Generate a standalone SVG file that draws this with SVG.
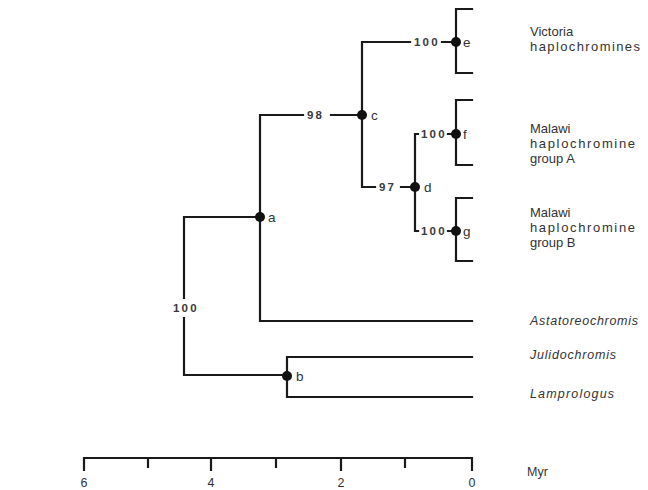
<svg xmlns="http://www.w3.org/2000/svg" width="648" height="490" viewBox="0 0 648 490">
<style>
.ln{stroke:#1a1a1a;stroke-width:2.2;fill:none;stroke-linecap:square}
.dot{fill:#111}
.lab{font-family:"Liberation Sans",Arial,sans-serif;font-size:13.5px;fill:#333}
.bs{font-family:"Liberation Sans",Arial,sans-serif;font-size:11.5px;font-weight:bold;fill:#3a3a3a;letter-spacing:2.2px}
.tx{font-family:"Liberation Sans",Arial,sans-serif;font-size:13px;fill:#333}
.it{font-family:"Liberation Sans",Arial,sans-serif;font-size:12.5px;font-style:italic;fill:#333}
.ax{font-family:"Liberation Sans",Arial,sans-serif;font-size:12.5px;fill:#333}
</style>
<rect width="648" height="490" fill="#fff"/>
<g id="connectors">
<path class="ln" d="M184 217V298M184 318V375H287M184 217H260"/>
<path class="ln" d="M260 115V321H472M260 115H303M331 115H362"/>
<path class="ln" d="M362 42V187M362 42H410M442 42H456M362 187H375M401 187H415"/>
<path class="ln" d="M415 134V231M415 134H418M415 231H418"/>
<path class="ln" d="M448 134H456M448 231H456"/>
<path class="ln" d="M472 9H456V73H472M472 100H456V165H472M472 198H456V261H472"/>
<path class="ln" d="M287 357V397M287 357H472M287 397H472"/>
</g>
<g id="support">
<text class="bs" x="173" y="312">100</text>
<text class="bs" x="307" y="119">98</text>
<text class="bs" x="414" y="46">100</text>
<text class="bs" x="379" y="191">97</text>
<text class="bs" x="421" y="138">100</text>
<text class="bs" x="421" y="235">100</text>
</g>
<g id="node-a"><circle class="dot" cx="260" cy="217" r="5"/><text class="lab" x="268" y="222">a</text></g>
<g id="node-b"><circle class="dot" cx="287" cy="376" r="5"/><text class="lab" x="296" y="381">b</text></g>
<g id="node-c"><circle class="dot" cx="362" cy="115" r="5"/><text class="lab" x="371" y="120">c</text></g>
<g id="node-d"><circle class="dot" cx="415" cy="187" r="5"/><text class="lab" x="424" y="192">d</text></g>
<g id="node-e"><circle class="dot" cx="456" cy="42" r="5"/><text class="lab" x="463" y="47">e</text></g>
<g id="node-f"><circle class="dot" cx="456" cy="134" r="5"/><text class="lab" x="463" y="139">f</text></g>
<g id="node-g"><circle class="dot" cx="456" cy="231" r="5"/><text class="lab" x="463" y="236">g</text></g>
<g id="taxon-victoria"><text class="tx" x="530" y="36">Victoria</text><text class="tx" x="530" y="51" textLength="110" lengthAdjust="spacing">haplochromines</text></g>
<g id="taxon-malawiA"><text class="tx" x="530" y="133">Malawi</text><text class="tx" x="530" y="148" textLength="105" lengthAdjust="spacing">haplochromine</text><text class="tx" x="530" y="163">group A</text></g>
<g id="taxon-malawiB"><text class="tx" x="530" y="217">Malawi</text><text class="tx" x="530" y="232" textLength="105" lengthAdjust="spacing">haplochromine</text><text class="tx" x="530" y="247">group B</text></g>
<g id="taxon-astato"><text class="it" x="530" y="325" textLength="108" lengthAdjust="spacing">Astatoreochromis</text></g>
<g id="taxon-julido"><text class="it" x="530" y="359" textLength="86" lengthAdjust="spacing">Julidochromis</text></g>
<g id="taxon-lampro"><text class="it" x="530" y="398" textLength="84" lengthAdjust="spacing">Lamprologus</text></g>
<g id="axis">
<path class="ln" d="M84 470V458H472V470M148 458V467M211 458V470M276 458V467M341 458V470M405 458V467"/>
<text class="ax" x="84" y="487" text-anchor="middle">6</text>
<text class="ax" x="211" y="487" text-anchor="middle">4</text>
<text class="ax" x="341" y="487" text-anchor="middle">2</text>
<text class="ax" x="472" y="487" text-anchor="middle">0</text>
<text class="ax" x="527" y="476">Myr</text>
</g>
</svg>
